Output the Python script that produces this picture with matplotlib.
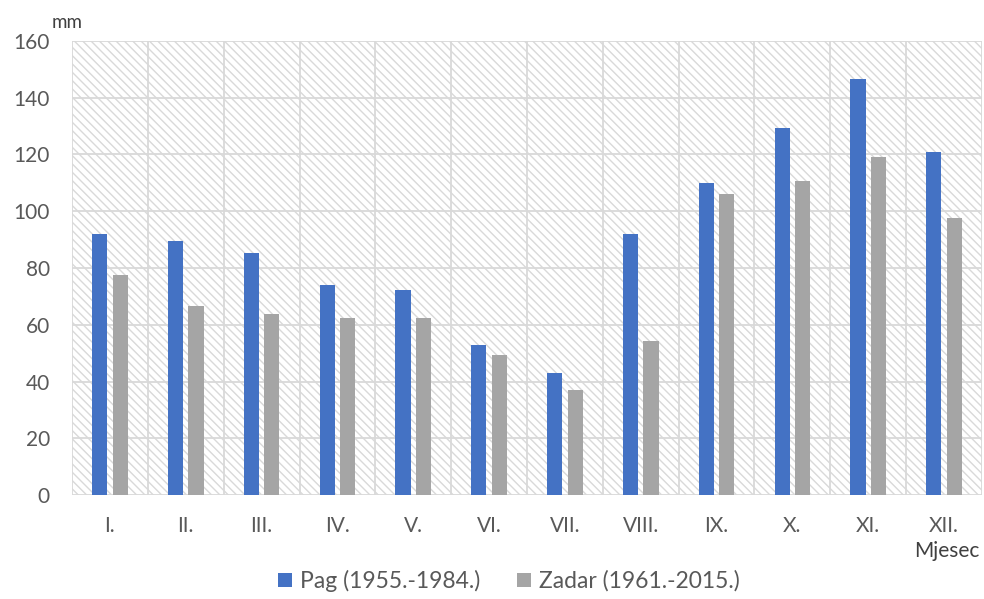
import matplotlib.pyplot as plt
import numpy as np
from matplotlib.patches import Rectangle

plt.rcParams['font.family'] = ['Lato', 'DejaVu Sans']

months = ['I.', 'II.', 'III.', 'IV.', 'V.', 'VI.', 'VII.', 'VIII.', 'IX.', 'X.', 'XI.', 'XII.']
pag = [92, 89.5, 85.3, 74, 72.2, 52.9, 43, 92, 110, 129.3, 146.6, 120.9]
zadar = [77.5, 66.6, 63.8, 62.4, 62.4, 49.3, 37, 54.3, 106, 110.7, 119, 97.6]
yticks = [0, 20, 40, 60, 80, 100, 120, 140, 160]

grid_c = '#d9d9d9'
text_c = '#595959'

fig = plt.figure(figsize=(9.84, 5.99), dpi=100)
ax = fig.add_axes([72 / 984, 1 - 495 / 599, 910 / 984, 454 / 599])

x = np.arange(len(months))
ax.set_xlim(-0.5, len(months) - 0.5)
ax.set_ylim(0, 160)

# hatched background
ax.add_patch(Rectangle((0, 0), 1, 1, transform=ax.transAxes, facecolor='white',
                       edgecolor=grid_c, hatch='\\\\\\\\', linewidth=0, zorder=0))

# grid lines
for yv in yticks:
    ax.axhline(yv, color=grid_c, lw=1.3, zorder=1)
for xv in np.arange(-0.5, len(months), 1):
    ax.axvline(xv, color=grid_c, lw=1.3, zorder=1)

w = 0.2
ax.bar(x - 0.135, pag, w, color='#4472c4', zorder=3, label='Pag (1955.-1984.)')
ax.bar(x + 0.135, zadar, w, color='#a5a5a5', zorder=3, label='Zadar (1961.-2015.)')

for s in ax.spines.values():
    s.set_visible(False)

ax.set_yticks(yticks)
ax.set_xticks(x)
ax.set_xticklabels(months)
ax.tick_params(axis='both', length=0, labelsize=15, colors=text_c)
ax.tick_params(axis='x', pad=15)
ax.tick_params(axis='y', pad=16)

fig.text(52 / 984, 1 - 22 / 599, 'mm', fontsize=13.5, color='#404040', va='center', ha='left')
fig.text(947 / 984, 1 - 551 / 599, 'Mjesec', fontsize=15, color='#404040', va='center', ha='center')

fig.legend(loc='center', bbox_to_anchor=(509 / 984, 1 - 581 / 599), ncol=2, frameon=False,
           fontsize=16.5, labelcolor=text_c, handlelength=0.6, handleheight=0.6,
           handletextpad=0.35, columnspacing=1.6)

fig.savefig('out.png', dpi=100)
